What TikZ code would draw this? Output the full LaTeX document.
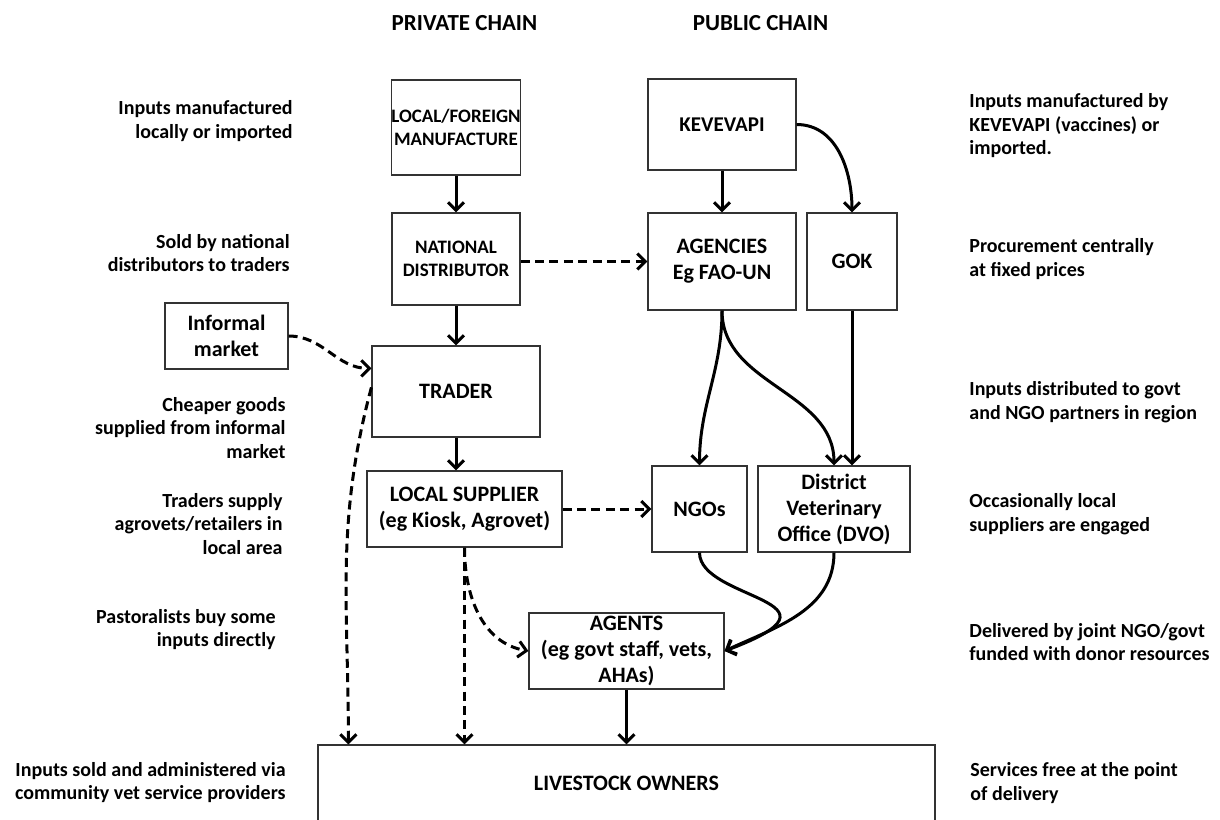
\documentclass[tikz,border=0pt]{standalone}
\usepackage{fontspec}
\setmainfont{Carlito}
\usetikzlibrary{arrows.meta,calc}
\begin{document}
\begin{tikzpicture}[x=0.5pt,y=0.5pt,
 box/.style={draw=black!80, line width=0.6pt, align=center, inner sep=0pt, font=\fontsize{11}{13}\selectfont\bfseries},
 smallbox/.style={box, font=\fontsize{9.5}{11.5}\selectfont\bfseries},
 lnote/.style={anchor=east, align=right, inner sep=0pt, font=\fontsize{10}{11.75}\selectfont\bfseries},
 rnote/.style={anchor=west, align=left, inner sep=0pt, font=\fontsize{10}{11.75}\selectfont\bfseries},
 chaintitle/.style={font=\fontsize{11.5}{13}\selectfont\bfseries, inner sep=0pt},
 arr/.style={line width=1.5pt, -{Straight Barb[length=4pt,width=8pt]}},
 darr/.style={arr, dash pattern=on 4.5pt off 2.7pt},
]
\useasboundingbox (0,0) rectangle (1220,-819);
\clip (0,0) rectangle (1220,-819);

% titles
\node[chaintitle] (tpriv) at (464.5,-23) {PRIVATE CHAIN};
\node[chaintitle] (tpub) at (760.5,-23) {PUBLIC CHAIN};

% boxes
\node[smallbox, minimum width=64pt, minimum height=47.5pt] (manu) at (456,-127.5) {LOCAL/FOREIGN\\MANUFACTURE};
\node[box, font=\fontsize{10.5}{13}\selectfont\bfseries, minimum width=74pt, minimum height=45.5pt] (kev) at (722,-124.5) {KEVEVAPI};
\node[smallbox, minimum width=64pt, minimum height=46pt] (natd) at (456,-259) {NATIONAL\\DISTRIBUTOR};
\node[box, minimum width=74pt, minimum height=48.5pt] (agen) at (722,-261.5) {AGENCIES\\Eg FAO-UN};
\node[box, minimum width=45pt, minimum height=48.5pt] (gok) at (852,-261.5) {GOK};
\node[box, minimum width=61.5pt, minimum height=33pt] (inf) at (226.5,-336) {Informal\\market};
\node[box, minimum width=84pt, minimum height=45.5pt] (trader) at (456,-391.5) {TRADER};
\node[box, minimum width=97.5pt, minimum height=38pt] (locs) at (464.5,-509) {LOCAL SUPPLIER\\(eg Kiosk, Agrovet)};
\node[box, minimum width=47.5pt, minimum height=43pt] (ngos) at (699.5,-509) {NGOs};
\node[box, minimum width=76pt, minimum height=43pt] (dvo) at (834,-509) {District\\Veterinary\\Office (DVO)};
\node[box, minimum width=97.5pt, minimum height=38pt] (agents) at (626.5,-651) {AGENTS\\(eg govt staff, vets,\\AHAs)};
\node[box, minimum width=308.5pt, minimum height=38pt] (live) at (626.5,-783) {LIVESTOCK OWNERS};

% connectors
\draw[arr] (manu) -- (natd);
\draw[arr] (kev) -- (agen);
\draw[arr] (natd) -- (trader);
\draw[arr] (trader.south) -- (trader.south |- locs.north);
\draw[arr] (kev.east) to[out=0,in=90] (gok.north);
\draw[darr] (natd.east |- agen.west) -- (agen.west);
\draw[darr] (inf.east) to[out=0,in=180] ($(trader.north west)+(0,-23)$);
\draw[darr] ($(trader.north west)+(0,-42)$) to[out=-105,in=90] ($(live.north west)+(31,0)$);
\draw[darr] (locs.south) -- (locs.south |- live.north);
\draw[darr] (locs.south) to[out=-90,in=170] (agents.west);
\draw[darr] (locs.east) -- (ngos.west);
\draw[arr] (agen.south) to[out=-90,in=90] (ngos.north);
\draw[arr] (agen.south) to[out=-90,in=90] (dvo.north);
\draw[arr] (gok.south) -- (gok.south |- dvo.north);
\draw[arr] (ngos.south) .. controls ($(ngos.south)+(0,-48)$) and (860,-600) .. (agents.east);
\draw[arr] (dvo.south) to[out=-90,in=25] (agents.east);
\draw[arr] (agents.south) -- (agents.south |- live.north);

% left notes
\node[lnote] (l1) at (293,-121) {Inputs manufactured\\locally or imported};
\node[lnote] (l2) at (290,-253) {Sold by national\\distributors to traders};
\node[lnote] (l3) at (286,-428) {Cheaper goods\\supplied from informal\\market};
\node[lnote] (l4) at (283,-524) {Traders supply\\agrovets/retailers in\\local area};
\node[lnote] (l5) at (276,-629.5) {Pastoralists buy some\\inputs directly};
\node[lnote] (l6) at (286,-782.5) {Inputs sold and administered via\\community vet service providers};

% right notes
\node[rnote] (r1) at (969,-126) {Inputs manufactured by\\KEVEVAPI (vaccines) or\\imported.};
\node[rnote] (r2) at (969,-259) {Procurement centrally\\at fixed prices};
\node[rnote] (r3) at (969,-402) {Inputs distributed to govt\\and NGO partners in region};
\node[rnote] (r4) at (969,-514) {Occasionally local\\suppliers are engaged};
\node[rnote] (r5) at (969,-642) {Delivered by joint NGO/govt\\funded with donor resources};
\node[rnote] (r6) at (970,-783) {Services free at the point\\of delivery};
\end{tikzpicture}
\end{document}
